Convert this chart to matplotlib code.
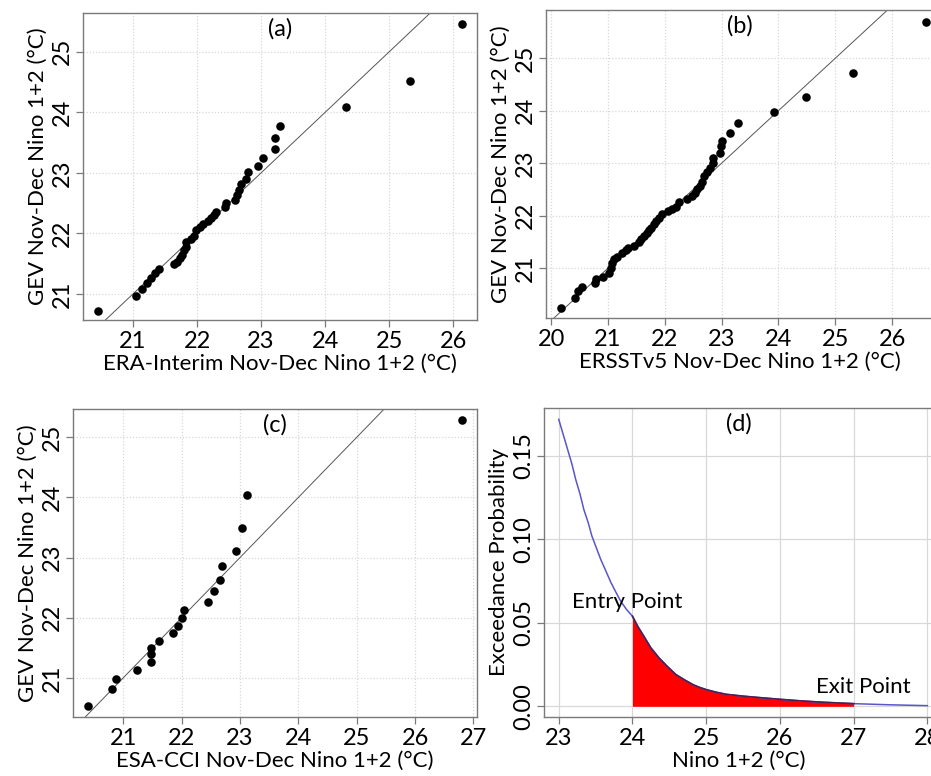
import numpy as np
import matplotlib
matplotlib.use("Agg")
import matplotlib.pyplot as plt

plt.rcParams['font.family'] = ['Lato', 'DejaVu Sans']

# (a) ERA-Interim vs GEV quantiles
era_x = [20.45, 21.04, 21.14, 21.22, 21.28, 21.35, 21.41, 21.64, 21.69, 21.73, 21.77,
         21.79, 21.82, 21.83, 21.91, 21.95, 21.99, 22.05, 22.10, 22.17, 22.22, 22.27,
         22.30, 22.43, 22.45, 22.60, 22.63, 22.65, 22.69, 22.76, 22.79, 22.95, 23.03,
         23.21, 23.21, 23.29, 24.32, 25.33, 26.14]
era_y = [20.72, 20.96, 21.08, 21.18, 21.27, 21.34, 21.42, 21.49, 21.53, 21.59, 21.64,
         21.72, 21.78, 21.85, 21.90, 21.96, 22.06, 22.10, 22.16, 22.21, 22.25, 22.31,
         22.36, 22.43, 22.51, 22.56, 22.64, 22.72, 22.81, 22.90, 23.01, 23.12, 23.24,
         23.40, 23.57, 23.78, 24.09, 24.52, 25.46]

# (b) ERSSTv5 vs GEV quantiles
ersst_x = [20.17, 20.42, 20.47, 20.54, 20.78, 20.79, 20.92, 21.01, 21.05, 21.08, 21.11,
           21.16, 21.25, 21.31, 21.36, 21.45, 21.54, 21.59, 21.63, 21.68, 21.72, 21.76,
           21.81, 21.85, 21.89, 21.96, 22.06, 22.13, 22.19, 22.25, 22.39, 22.48, 22.53,
           22.57, 22.62, 22.66, 22.69, 22.75, 22.79, 22.84, 22.84, 22.97, 22.99, 23.01,
           23.15, 23.28, 23.92, 24.48, 25.32, 26.59]
ersst_y = [20.25, 20.44, 20.56, 20.65, 20.71, 20.79, 20.84, 20.90, 21.00, 21.10, 21.17,
           21.22, 21.29, 21.35, 21.39, 21.43, 21.49, 21.55, 21.62, 21.67, 21.72, 21.77,
           21.84, 21.90, 21.95, 22.03, 22.08, 22.12, 22.17, 22.27, 22.31, 22.37, 22.44,
           22.50, 22.57, 22.65, 22.75, 22.84, 22.90, 23.00, 23.10, 23.20, 23.32, 23.43,
           23.58, 23.76, 23.98, 24.27, 24.71, 25.69]

# (c) ESA-CCI vs GEV quantiles
esa_x = [20.40, 20.80, 20.87, 21.23, 21.47, 21.47, 21.47, 21.62, 21.85, 21.93, 22.00,
         22.04, 22.45, 22.55, 22.66, 22.70, 22.94, 23.04, 23.12, 26.80]
esa_y = [20.53, 20.81, 20.99, 21.13, 21.27, 21.39, 21.50, 21.62, 21.74, 21.87, 21.99,
         22.13, 22.26, 22.44, 22.63, 22.86, 23.11, 23.49, 24.04, 25.29]

# (d) exceedance probability curve
nino = [23.0, 23.06, 23.12, 23.18, 23.23, 23.29, 23.34, 23.40, 23.45, 23.51, 23.57,
        23.64, 23.71, 23.78, 23.84, 23.92, 24.0, 24.07, 24.14, 24.25, 24.36, 24.47,
        24.59, 24.70, 24.82, 24.90, 25.0, 25.13, 25.27, 25.50, 25.73, 26.0, 26.3,
        26.6, 27.0, 27.5, 28.0]
exceed = [0.172, 0.163, 0.154, 0.145, 0.136, 0.127, 0.118, 0.110, 0.102, 0.095, 0.088,
          0.081, 0.074, 0.068, 0.063, 0.058, 0.054, 0.048, 0.043, 0.035, 0.029, 0.024,
          0.019, 0.016, 0.013, 0.0115, 0.010, 0.0085, 0.0072, 0.0061, 0.0052, 0.0042,
          0.0032, 0.0024, 0.0016, 0.0009, 0.0004]
entry_pt = 24.0
exit_pt = 27.0

W, H = 931, 776
fig = plt.figure(figsize=(W / 100, H / 100), dpi=100)

TICK_FS = 17
LAB_FS = 16


def px_axes(l, t, r, b):
    return fig.add_axes([l / W, 1 - b / H, (r - l) / W, (b - t) / H])


def style(ax, grid_ls):
    for s in ax.spines.values():
        s.set_color('#7a7a7a')
        s.set_linewidth(1.0)
    ax.tick_params(direction='out', length=5, width=0.9, color='#7a7a7a',
                   labelsize=TICK_FS)
    ax.tick_params(axis='x', pad=3)
    ax.tick_params(axis='y', labelrotation=90, pad=2)
    for lab in ax.get_yticklabels():
        lab.set_va('center')
    ax.grid(True, color='#d8d8d8', linestyle=grid_ls, linewidth=0.9)
    ax.set_axisbelow(True)


def qq_panel(ax, x, y, xlim, ylim, xticks, yticks, xlabel, tag):
    ax.scatter(x, y, s=38, color='black', zorder=3, linewidths=0)
    ax.plot([15, 30], [15, 30], color='#555555', linewidth=0.7, zorder=2)
    ax.set_xlim(*xlim)
    ax.set_ylim(*ylim)
    ax.set_xticks(xticks)
    ax.set_yticks(yticks)
    style(ax, (0, (1, 1.5)))
    ax.set_xlabel(xlabel, fontsize=LAB_FS, labelpad=1)
    ax.set_ylabel('GEV Nov-Dec Nino 1+2 (°C)', fontsize=LAB_FS, labelpad=3)
    ax.text(0.5, 0.95, tag, transform=ax.transAxes, ha='center', va='center', fontsize=17)


ax_a = px_axes(83, 13, 477, 320)
qq_panel(ax_a, era_x, era_y, (20.22, 26.37), (20.57, 25.64),
         [21, 22, 23, 24, 25, 26], [21, 22, 23, 24, 25],
         'ERA-Interim Nov-Dec Nino 1+2 (°C)', '(a)')

ax_b = px_axes(546, 10, 933, 318)
qq_panel(ax_b, ersst_x, ersst_y, (19.91, 26.72), (20.05, 25.92),
         [20, 21, 22, 23, 24, 25, 26], [21, 22, 23, 24, 25],
         'ERSSTv5 Nov-Dec Nino 1+2 (°C)', '(b)')

ax_c = px_axes(73, 409, 477, 717)
qq_panel(ax_c, esa_x, esa_y, (20.14, 27.06), (20.35, 25.47),
         [21, 22, 23, 24, 25, 26, 27], [21, 22, 23, 24, 25],
         'ESA-CCI Nov-Dec Nino 1+2 (°C)', '(c)')

ax_d = px_axes(544, 408, 934, 717)
nx = np.array(nino)
ny = np.array(exceed)
inside = (nx >= entry_pt) & (nx <= exit_pt)
ax_d.fill_between(nx, 0, ny, where=inside, color='#ff0000', linewidth=0, zorder=2)
ax_d.plot(nx, ny, color='#5a55c8', linewidth=1.1, zorder=2.5)
ax_d.plot(nx[inside], ny[inside], color='#4a2050', linewidth=1.2, zorder=3)
ax_d.set_xlim(22.80, 28.09)
ax_d.set_ylim(-0.0064, 0.1788)
ax_d.set_xticks([23, 24, 25, 26, 27, 28])
ax_d.set_yticks([0.00, 0.05, 0.10, 0.15])
ax_d.set_yticklabels(['0.00', '0.05', '0.10', '0.15'])
style(ax_d, '-')
ax_d.set_xlabel('Nino 1+2 (°C)', fontsize=LAB_FS, labelpad=1)
ax_d.set_ylabel('Exceedance Probability', fontsize=LAB_FS, labelpad=3)
ax_d.text(0.5, 0.95, '(d)', transform=ax_d.transAxes, ha='center', va='center', fontsize=17)
ax_d.text(23.93, 0.0625, 'Entry Point', ha='center', va='center', fontsize=LAB_FS)
ax_d.text(27.13, 0.0115, 'Exit Point', ha='center', va='center', fontsize=LAB_FS)

fig.savefig('out.png', dpi=100)
